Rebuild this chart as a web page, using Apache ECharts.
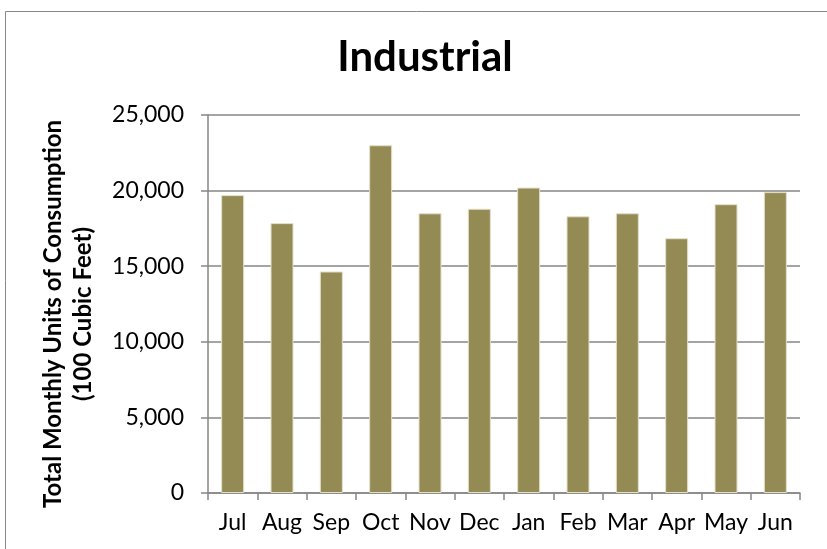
<!DOCTYPE html>
<html><head><meta charset="utf-8">
<script src="https://cdn.jsdelivr.net/npm/echarts@6/dist/echarts.min.js"></script>
<style>html,body{margin:0;padding:0;background:#fff}#c{width:827px;height:549px}</style>
</head><body><div id="c"></div>
<script>
const categories = ['Jul','Aug','Sep','Oct','Nov','Dec','Jan','Feb','Mar','Apr','May','Jun'];
const consumption = [19700, 17850, 14650, 23000, 18500, 18800, 20200, 18300, 18500, 16850, 19100, 19900];
const yTicks = { min: 0, max: 25000, interval: 5000 };
const titleText = 'Industrial';
const yName = 'Total Monthly Units of Consumption\n(100 Cubic Feet)';

const FONT = 'Lato, "Open Sans", sans-serif';
const chart = echarts.init(document.getElementById('c'));
chart.setOption({
  animation: false,
  backgroundColor: '#fff',
  graphic: [{
    type: 'rect', left: 3, top: 9, shape: { width: 900, height: 700 },
    style: { fill: 'none', stroke: '#888', lineWidth: 1 }, silent: true, z: -1
  }],
  title: {
    text: titleText, left: 420, top: 31, textAlign: 'center',
    textStyle: { fontFamily: FONT, fontWeight: 'bold', fontSize: 42, color: '#000' }
  },
  grid: { left: 208, right: 27, top: 115, bottom: 56, containLabel: false },
  xAxis: {
    type: 'category', data: categories,
    axisLine: { lineStyle: { color: '#868686', width: 1.5 } },
    axisTick: { show: true, length: 7, alignWithLabel: false, lineStyle: { color: '#868686', width: 1.5 } },
    axisLabel: { fontFamily: FONT, fontSize: 23, color: '#000', margin: 18, interval: 0 }
  },
  yAxis: {
    type: 'value', min: yTicks.min, max: yTicks.max, interval: yTicks.interval,
    name: yName, nameLocation: 'middle', nameGap: 110, nameRotate: 90,
    nameTextStyle: { fontFamily: FONT, fontWeight: 'bold', fontSize: 24, color: '#000', lineHeight: 30, align: 'center', padding: [0, 20, 0, 0] },
    axisLine: { show: true, lineStyle: { color: '#868686', width: 1.5 } },
    axisTick: { show: true, length: 7, lineStyle: { color: '#868686', width: 1.5 } },
    splitLine: { lineStyle: { color: '#868686', width: 1.5 } },
    axisLabel: {
      fontFamily: FONT, fontSize: 23, color: '#000', margin: 24,
      formatter: v => v.toLocaleString('en-US')
    }
  },
  series: [{
    type: 'bar', data: consumption, barWidth: 23,
    itemStyle: { color: '#948A54', borderColor: '#e4dfc9', borderWidth: 1 }
  }]
});
</script></body></html>
